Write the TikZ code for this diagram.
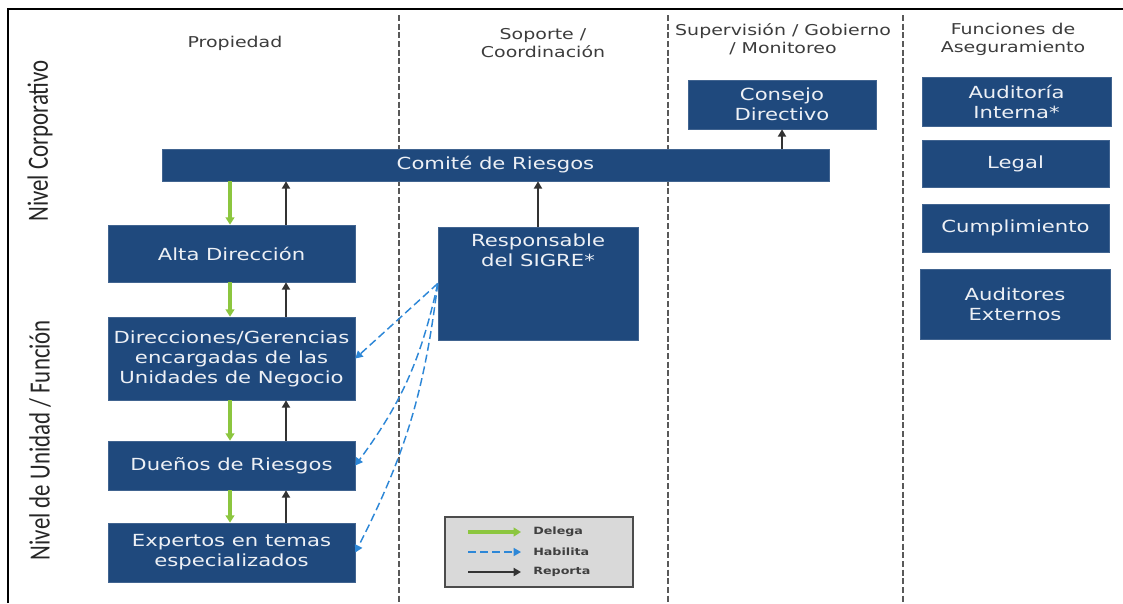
\documentclass[tikz,border=0pt]{standalone}
\usepackage{fontspec}
\setmainfont{DejaVu Sans}[FakeStretch=1.27]
\newfontfamily\sidefont{Carlito}[FakeStretch=0.78]
\usetikzlibrary{arrows.meta}
\definecolor{boxblue}{RGB}{31,73,125}
\definecolor{delgreen}{RGB}{140,198,63}
\definecolor{habblue}{RGB}{45,135,215}
\definecolor{headgray}{RGB}{60,60,60}
\definecolor{leggray}{RGB}{217,217,217}

\begin{document}
\begin{tikzpicture}[x=0.75pt,y=-0.75pt,
  caja/.style={fill=boxblue,draw=boxblue!85!white,text=white!92!boxblue,align=center,inner sep=0pt,font=\fontsize{12.5}{15}\selectfont},
  encabezado/.style={text=headgray,align=center,font=\fontsize{11.2}{13.5}\selectfont},
  nivel/.style={rotate=90,text=black!85,font=\sidefont\fontsize{22}{24}\selectfont},
  leytexto/.style={anchor=west,inner sep=0pt,text=black!75,font=\bfseries\fontsize{7.5}{9}\selectfont},
  delega/.style={-{Triangle[length=5.5pt,width=6.5pt]},delgreen,line width=2.3pt},
  habilita/.style={-{Triangle[length=5.5pt,width=6pt]},habblue,line width=1.1pt,dash pattern=on 6pt off 3pt},
  reporta/.style={-{Triangle[length=5.5pt,width=6pt]},black!80,line width=1.5pt},
  columna/.style={black!65,line width=1.1pt,dash pattern=on 4.5pt off 2pt}]
  \useasboundingbox (0,0) rectangle (1123,603);
  \draw[line width=2.2pt] (8,603) -- (8,9) -- (1123,9);
  \foreach \x in {399,668,903}{
    \draw[columna] (\x,15) -- (\x,603);
  }
  \node[encabezado] (hprop) at (235,43) {Propiedad};
  \node[encabezado] (hsop) at (543,43) {Soporte /\\Coordinación};
  \node[encabezado] (hsup) at (783,39) {Supervisión / Gobierno\\/ Monitoreo};
  \node[encabezado] (hfun) at (1013,39) {Funciones de\\Aseguramiento};
  \node[nivel] (ncorp) at (40,141) {Nivel Corporativo};
  \node[nivel] (nunid) at (40,440) {Nivel de Unidad / Función};

  \node[caja,minimum width=500pt,minimum height=24pt] (comite) at (495.5,165) {Comité de Riesgos};
  \node[caja,minimum width=141pt,minimum height=36.75pt] (consejo) at (782,104.5) {Consejo\\Directivo};
  \node[caja,minimum width=141.75pt,minimum height=36.75pt] (auditoria) at (1016.5,101.5) {Auditoría\\Interna*};
  \node[caja,minimum width=140.25pt,minimum height=35.25pt] (legal) at (1015.5,163.5) {Legal};
  \node[caja,minimum width=140.25pt,minimum height=36pt] (cumplimiento) at (1015.5,228) {Cumplimiento};
  \node[caja,minimum width=142.5pt,minimum height=52.5pt] (auditores) at (1015,304) {Auditores\\Externos};
  \node[caja,minimum width=185.25pt,minimum height=42.75pt] (alta) at (231.5,253.5) {Alta Dirección};
  \node[caja,minimum width=185.25pt,minimum height=62.25pt] (direc) at (231.5,358.5) {Direcciones/Gerencias\\encargadas de las\\Unidades de Negocio};
  \node[caja,minimum width=185.25pt,minimum height=36.75pt] (duenos) at (231.5,465.5) {Dueños de Riesgos};
  \node[caja,minimum width=185.25pt,minimum height=44.25pt] (expertos) at (231.5,552.5) {Expertos en temas\\especializados};
  \node[caja,minimum width=150pt,minimum height=84.75pt] (sigre) at (538,283.5) {};
  \node[caja,fill=none,draw=none,anchor=north] (sigretxt) at (538,234) {Responsable\\del SIGRE*};

  \coordinate (xdel) at (230,0);
  \coordinate (xrep) at (286,0);
  \foreach \a/\b in {comite/alta,alta/direc,direc/duenos,duenos/expertos}{
    \draw[delega] (\a.south -| xdel) -- (\b.north -| xdel);
    \draw[reporta] (\b.north -| xrep) -- (\a.south -| xrep);
  }
  \draw[reporta] (sigre.north) -- (comite.south -| sigre.north);
  \draw[reporta] (comite.north -| consejo.south) -- (consejo.south);
  \draw[habilita] (sigre.west) -- (direc.east);
  \draw[habilita] (sigre.west) to[bend left=12] (duenos.east);
  \draw[habilita] (sigre.west) to[bend left=10] (expertos.east);

  \node[draw=black!70,fill=leggray,line width=1pt,minimum width=141pt,minimum height=52.5pt] (leyenda) at (539,552) {};
  \foreach \estilo/\texto/\y in {delega/Delega/532,habilita/Habilita/552,reporta/Reporta/572}{
    \coordinate (\estilo-a) at (468,\y);
    \coordinate (\estilo-b) at (521,\y);
    \draw[\estilo] (\estilo-a) -- (\estilo-b);
    \node[leytexto] (\estilo-txt) at (533,\y) {\texto};
  }
\end{tikzpicture}
\end{document}
